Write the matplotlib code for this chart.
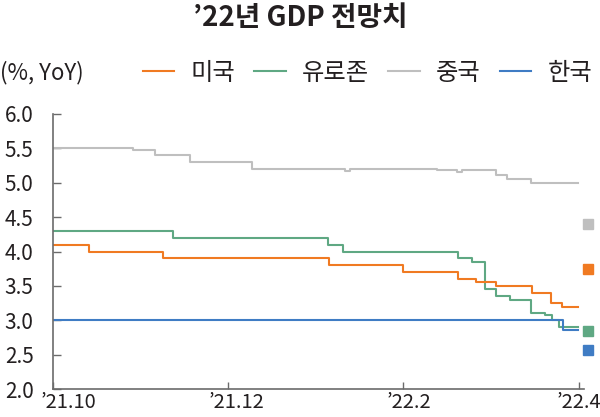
import matplotlib.pyplot as plt
import matplotlib.transforms as mtransforms
from matplotlib.lines import Line2D

plt.rcParams['font.family'] = ['Noto Sans CJK KR', 'DejaVu Sans']

# x 값은 '21.10 을 0 으로 둔 월 단위 위치
us_x = [0, 0.41, 1.26, 3.15, 4.0, 4.62, 4.83, 5.05, 5.47, 5.68, 5.81, 5.99]
us_y = [4.1, 4.0, 3.9, 3.8, 3.7, 3.6, 3.55, 3.5, 3.4, 3.25, 3.2, 3.2]

ez_x = [0, 1.37, 3.14, 3.31, 4.62, 4.78, 4.93, 5.05, 5.21, 5.45, 5.62, 5.70, 5.78, 5.99]
ez_y = [4.3, 4.2, 4.1, 4.0, 3.9, 3.85, 3.45, 3.36, 3.3, 3.1, 3.07, 3.0, 2.9, 2.9]

cn_x = [0, 0.91, 1.16, 1.56, 2.27, 3.33, 3.39, 4.38, 4.61, 4.67, 5.05, 5.18, 5.45, 5.99]
cn_y = [5.5, 5.48, 5.4, 5.3, 5.2, 5.17, 5.2, 5.19, 5.16, 5.18, 5.12, 5.06, 5.0, 5.0]

kr_x = [0, 5.82, 5.99]
kr_y = [3.0, 2.86, 2.86]

# 우측 네모 표시 값
marker_x = 6.1
marker_y = {'미국': 3.75, '유로존': 2.85, '중국': 4.4, '한국': 2.57}

names = ['미국', '유로존', '중국', '한국']
colors = {'미국': '#f07a22', '유로존': '#5fa883', '중국': '#bfbfbf', '한국': '#3f7cc4'}
series = {'미국': (us_x, us_y), '유로존': (ez_x, ez_y),
          '중국': (cn_x, cn_y), '한국': (kr_x, kr_y)}

xticks = [0, 2, 4, 6]
xlabels = ['’21.10', '’21.12', '’22.2', '’22.4']
yticks = [2.0, 2.5, 3.0, 3.5, 4.0, 4.5, 5.0, 5.5, 6.0]

fig = plt.figure(figsize=(6, 4.17), dpi=100)
ax = fig.add_axes([53 / 600, 1 - 389 / 417, (584 - 53) / 600, (389 - 114) / 417])

for n in ['중국', '유로존', '미국', '한국']:
    xs, ys = series[n]
    ax.step(xs, ys, where='post', color=colors[n], lw=1.5)
for n in names:
    ax.plot(marker_x, marker_y[n], 's', color=colors[n], ms=7, clip_on=False)

ax.set_xlim(0, 6.06)
ax.set_ylim(2, 6)
ax.set_xticks(xticks)
ax.set_xticklabels(xlabels)
ax.set_yticks(yticks)
ax.set_yticklabels(['%.1f' % v for v in yticks])

for s in ['top', 'right']:
    ax.spines[s].set_visible(False)
for s in ['left', 'bottom']:
    ax.spines[s].set_color('#6b6b6b')
    ax.spines[s].set_linewidth(1.2)
ax.tick_params(axis='y', direction='in', length=6, width=1, color='#6b6b6b',
               labelsize=15, labelcolor='#231f20', pad=14)
ax.tick_params(axis='x', direction='in', length=5, width=1, color='#6b6b6b',
               labelsize=14.5, labelcolor='#231f20', pad=2)

# 첫 x 라벨이 y 라벨과 겹치지 않도록 오른쪽으로 조금 이동
for lab, dx in zip(ax.get_xticklabels(), [15, 8, 5, 0]):
    lab.set_transform(lab.get_transform() +
                      mtransforms.ScaledTranslation(dx / 100, 0, fig.dpi_scale_trans))

fig.text(0.5, 1 - 18 / 417, '’22년 GDP 전망치', ha='center', va='center',
         fontsize=20, fontweight='bold', color='#231f20')
fig.text(0, 1 - 73 / 417, '(%, YoY)', ha='left', va='center',
         fontsize=16, color='#231f20')

handles = [Line2D([], [], color=colors[n], lw=1.5) for n in names]
fig.legend(handles, names, loc='center right', bbox_to_anchor=(592 / 600, 1 - 73 / 417),
           ncol=4, frameon=False, fontsize=17.5, handlelength=1.3, handletextpad=0.65,
           columnspacing=0.8, borderpad=0, borderaxespad=0, labelcolor='#231f20')

fig.savefig('out.png', dpi=100)
